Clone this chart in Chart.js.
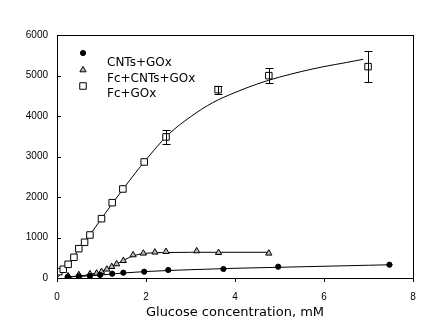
<!DOCTYPE html>
<html>
<head>
<meta charset="utf-8">
<script src="https://cdn.jsdelivr.net/npm/chart.js@4"></script>
<style>
  html, body { margin: 0; padding: 0; background: #fff; }
  #wrap { width: 448px; height: 322px; }
</style>
</head>
<body>
<div id="wrap"><canvas id="myChart" width="448" height="322"></canvas></div>
<script>
var cnts_x = [0.24, 0.49, 0.74, 0.97, 1.24, 1.49, 1.96, 2.50, 3.74, 4.97, 7.47];
var cnts_y = [30, 40, 50, 75, 106, 131, 156, 198, 222, 279, 328];

var fc_cnts_x = [0.25, 0.49, 0.74, 0.89, 1.00, 1.12, 1.23, 1.34, 1.49, 1.71, 1.94, 2.20, 2.45, 3.14, 3.63, 4.76];
var fc_cnts_y = [49, 80, 99, 116, 156, 215, 279, 346, 427, 568, 610, 635, 650, 667, 625, 610];

var fc_gox_x = [0.04, 0.14, 0.25, 0.38, 0.49, 0.62, 0.74, 1.00, 1.24, 1.48, 1.96, 2.45, 3.62, 4.76, 6.99];
var fc_gox_y = [156, 215, 338, 511, 724, 882, 1062, 1465, 1860, 2198, 2865, 3483, 4650, 4997, 5219];
var fc_gox_err = [0, 0, 0, 0, 0, 0, 0, 0, 0, 0, 0, 170, 100, 185, 387];

// Fitted curves
var cnts_fit_x = [0.2, 0.5, 1.0, 1.5, 2.0, 2.5, 3.0, 4.0, 5.0, 6.0, 7.0, 7.54];
var cnts_fit_y = [25, 38, 75, 125, 160, 185, 205, 240, 265, 290, 315, 328];

var fc_cnts_fit_x = [0.2, 0.5, 0.75, 1.0, 1.25, 1.5, 1.75, 2.0, 2.5, 3.0, 3.5, 4.0, 4.76];
var fc_cnts_fit_y = [30, 50, 90, 160, 290, 440, 560, 610, 630, 635, 635, 635, 635];

var fc_gox_fit_x = [0, 0.25, 0.5, 0.75, 1.0, 1.5, 2.0, 2.5, 3.0, 3.5, 4.0, 4.5, 5.0, 5.5, 6.0, 6.5, 6.88];
var fc_gox_fit_y = [0, 330, 720, 1080, 1470, 2220, 2920, 3540, 3980, 4330, 4580, 4790, 4960, 5100, 5220, 5320, 5400];

var x_ticks = [0, 2, 4, 6, 8];
var y_ticks = [0, 1000, 2000, 3000, 4000, 5000, 6000];

function pts(xs, ys) {
  return xs.map(function(x, i) { return {x: x, y: ys[i]}; });
}

var markerSets = [
  {label: 'CNTs+GOx', data: pts(cnts_x, cnts_y), pointStyle: 'circle', pointRadius: 2.6,
   pointBackgroundColor: '#000', pointBorderColor: '#000'},
  {label: 'Fc+CNTs+GOx', data: pts(fc_cnts_x, fc_cnts_y), pointStyle: 'triangle', pointRadius: 3.6,
   pointBackgroundColor: '#b8b8b8', pointBorderColor: '#000'},
  {label: 'Fc+GOx', data: pts(fc_gox_x, fc_gox_y), pointStyle: 'rect', pointRadius: 4.6,
   pointBackgroundColor: '#fff', pointBorderColor: '#000', errors: fc_gox_err}
];
markerSets.forEach(function(d) {
  d.showLine = false;
  d.pointBorderWidth = 1;
  d.order = 0;
  d.isMarker = true;
});

var fitSets = [pts(cnts_fit_x, cnts_fit_y), pts(fc_cnts_fit_x, fc_cnts_fit_y), pts(fc_gox_fit_x, fc_gox_fit_y)]
  .map(function(p) {
    return {data: p, showLine: true, borderColor: '#000', borderWidth: 1, pointRadius: 0,
            cubicInterpolationMode: 'monotone', fill: false, order: 1};
  });

// frame, inward y ticks, error bars, legend
var decorations = {
  id: 'decorations',
  afterDatasetsDraw: function(chart) {
    var ctx = chart.ctx, a = chart.chartArea;
    var xs = chart.scales.x, ys = chart.scales.y;
    ctx.save();
    ctx.strokeStyle = '#000';
    ctx.lineWidth = 1;
    ctx.strokeRect(Math.round(a.left) + 0.5, Math.round(a.top) + 0.5,
                   Math.round(a.right - a.left), Math.round(a.bottom - a.top));
    y_ticks.forEach(function(v) {
      var py = Math.round(ys.getPixelForValue(v)) + 0.5;
      ctx.beginPath();
      ctx.moveTo(a.left, py);
      ctx.lineTo(a.left + 4, py);
      ctx.stroke();
    });
    // error bars
    chart.data.datasets.forEach(function(ds) {
      if (!ds.errors) return;
      ds.data.forEach(function(p, i) {
        var e = ds.errors[i];
        if (!e) return;
        var px = Math.round(xs.getPixelForValue(p.x)) + 0.5;
        var top = Math.round(ys.getPixelForValue(p.y + e)) + 0.5;
        var bot = Math.round(ys.getPixelForValue(p.y - e)) + 0.5;
        ctx.beginPath();
        ctx.moveTo(px, top); ctx.lineTo(px, bot);
        ctx.moveTo(px - 4, top); ctx.lineTo(px + 4, top);
        ctx.moveTo(px - 4, bot); ctx.lineTo(px + 4, bot);
        ctx.stroke();
      });
    });
    // legend
    var symY = [53, 70, 86];
    var txtY = [63, 79, 94];
    ctx.font = '12px "DejaVu Sans"';
    ctx.fillStyle = '#000';
    ctx.textBaseline = 'middle';
    chart.data.datasets.filter(function(d) { return d.isMarker; }).forEach(function(d, i) {
      ctx.save();
      ctx.fillStyle = d.pointBackgroundColor;
      ctx.strokeStyle = d.pointBorderColor;
      Chart.helpers.drawPoint(ctx, {pointStyle: d.pointStyle, radius: d.pointRadius, borderWidth: 1}, 83, symY[i]);
      ctx.restore();
      ctx.fillText(d.label, 107, txtY[i]);
    });
    ctx.restore();
  }
};

var ctx = document.getElementById('myChart');
var myChart = new Chart(ctx, {
  type: 'scatter',
  data: { datasets: markerSets.concat(fitSets) },
  options: {
    responsive: false,
    animation: false,
    layout: { padding: { left: 0, top: 35, right: 35, bottom: 0 } },
    plugins: { legend: { display: false }, tooltip: { enabled: false } },
    scales: {
      x: {
        type: 'linear', min: 0, max: 8,
        afterFit: function(s) { s.height = 44; },
        afterBuildTicks: function(s) { s.ticks = x_ticks.map(function(v) { return {value: v}; }); },
        border: { display: false },
        grid: { drawOnChartArea: false, drawTicks: true, tickLength: 4, color: '#000', tickColor: '#000' },
        ticks: { color: '#000', padding: 9, font: { family: '"Liberation Sans"', size: 10 },
                 callback: function(v) { return String(v); } },
        title: { display: true, text: 'Glucose concentration, mM', color: '#000',
                 padding: { top: 0, bottom: 2 }, font: { family: '"DejaVu Sans"', size: 13 } }
      },
      y: {
        type: 'linear', min: 0, max: 6000,
        afterFit: function(s) { s.width = 57; },
        afterBuildTicks: function(s) { s.ticks = y_ticks.map(function(v) { return {value: v}; }); },
        border: { display: false },
        grid: { drawOnChartArea: false, drawTicks: false },
        ticks: { color: '#000', padding: 9, font: { family: '"Liberation Sans"', size: 10 },
                 callback: function(v) { return String(v); } }
      }
    }
  },
  plugins: [decorations]
});
</script>
</body>
</html>
